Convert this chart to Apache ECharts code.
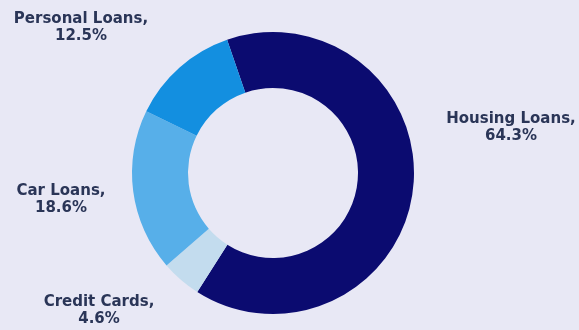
<!DOCTYPE html>
<html>
<head>
<meta charset="utf-8">
<script src="https://cdn.jsdelivr.net/npm/echarts@6/dist/echarts.min.js"></script>
<style>
  html, body { margin: 0; padding: 0; background: #e8e8f5; }
  #chart { width: 579px; height: 330px; }
</style>
</head>
<body>
<div id="chart"></div>
<script>
// Loan portfolio breakdown (share of total, %), listed clockwise from the top
const categories = ['Housing Loans', 'Credit Cards', 'Car Loans', 'Personal Loans'];
const shares = [64.3, 4.6, 18.6, 12.5];
const sliceColors = ['#0b0b70', '#c3dcee', '#57afe9', '#138fe0'];

// Where each two-line label block is centred
const labelSpots = {
  'Housing Loans': [511, 128],
  'Credit Cards': [99, 311],
  'Car Loans': [61, 200],
  'Personal Loans': [81, 28]
};

const chart = echarts.init(document.getElementById('chart'), null, { renderer: 'canvas' });

chart.setOption({
  backgroundColor: '#e8e8f5',
  animation: false,
  series: [{
    type: 'pie',
    center: [273, 173],
    radius: [85, 141],
    startAngle: 109,
    clockwise: true,
    silent: true,
    data: categories.map((name, i) => ({
      name: name,
      value: shares[i],
      itemStyle: { color: sliceColors[i] }
    })),
    label: {
      show: true,
      position: 'outside',
      alignTo: 'none',
      overflow: 'none',
      width: 200,
      formatter: p => p.name + ',\n' + p.value.toFixed(1) + '%',
      fontFamily: 'DejaVu Sans',
      fontWeight: 'bold',
      fontSize: 15,
      lineHeight: 17,
      color: '#2a3557',
      align: 'center'
    },
    labelLine: { show: false },
    labelLayout: function (params) {
      const name = categories[params.dataIndex];
      const spot = labelSpots[name];
      return {
        x: spot[0],
        y: spot[1],
        align: 'center',
        verticalAlign: 'middle',
        hideOverlap: false,
        moveOverlap: false
      };
    }
  }]
});
</script>
</body>
</html>
